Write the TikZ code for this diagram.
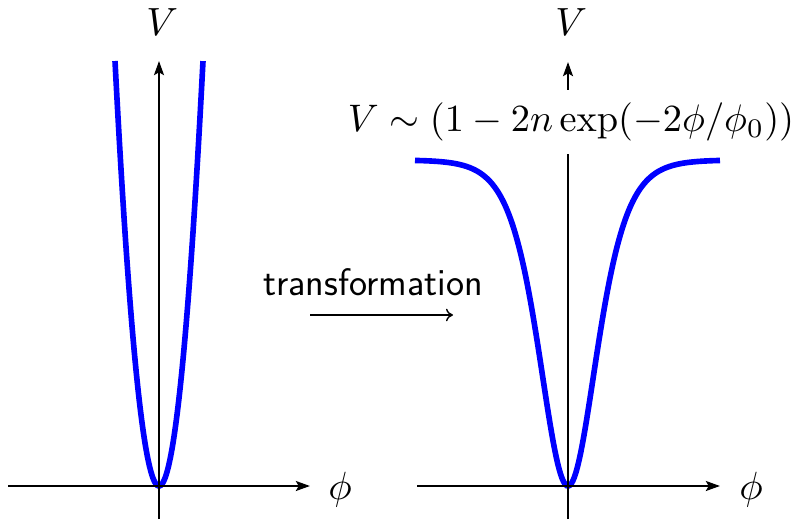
\documentclass[tikz,border=0pt]{standalone}
\usepackage{amsmath,amssymb}
\usetikzlibrary{arrows.meta,positioning,calc}

\begin{document}
\begin{tikzpicture}[
    axis/.style={line width=1.8pt, -{Stealth[length=10pt, width=7pt, inset=2pt]}},
    pot/.style={draw=blue, line width=4pt},
    lab/.style={scale=2.8, transform shape, inner sep=0pt},
    trarr/.style={line width=1pt, -{Computer Modern Rightarrow[length=5pt, width=9pt]}}
]
\useasboundingbox (0,0) rectangle (19.8,12.975);

% origins of the two plots
\coordinate (OL) at (3.975,0.825);
\coordinate (OR) at (14.2,0.825);

% potentials
\begin{scope}[shift={(OL)}]
\draw[pot] plot[domain=-1.1:1.1, samples=80] ({\x},{10.625*(\x/1.1)*(\x/1.1)});
\end{scope}
\begin{scope}[shift={(OR)}]
\draw[pot] plot[domain=-3.825:3.8, samples=200] ({\x},{8.15*tanh(\x/0.9575)*tanh(\x/0.9575)});
\end{scope}

% left axes
\coordinate (xLa) at ($(OL)+(-3.775,0)$);
\coordinate (xLb) at ($(OL)+(3.775,0)$);
\coordinate (yLa) at ($(OL)+(0,-0.825)$);
\coordinate (yLb) at ($(OL)+(0,10.625)$);
\coordinate (pL) at ($(OL)+(4.525,-0.09)$);
\coordinate (vL) at ($(OL)+(0.08,11.61)$);
\draw[axis] (xLa) -- (xLb);
\draw[axis] (yLa) -- (yLb);
\node[lab] (phiL) at (pL) {$\phi$};
\node[lab] (VL) at (vL) {$V$};

% right axes
\coordinate (xRa) at ($(OR)+(-3.775,0)$);
\coordinate (xRb) at ($(OR)+(3.8,0)$);
\coordinate (yRa) at ($(OR)+(0,-0.825)$);
\coordinate (yRb) at ($(OR)+(0,10.6)$);
\coordinate (pR) at ($(OR)+(4.575,-0.09)$);
\coordinate (vR) at ($(OR)+(0.08,11.61)$);
\coordinate (fR) at ($(OR)+(0.075,9.1)$);
\draw[axis] (xRa) -- (xRb);
\draw[axis] (yRa) -- (yRb);
\node[lab] (phiR) at (pR) {$\phi$};
\node[lab] (VR) at (vR) {$V$};

\node[fill=white, scale=2.73, transform shape, inner sep=3.3pt] (form) at (fR)
    {$V\sim(1-2n\exp(-2\phi/\phi_0))$};

% transformation
\node[font=\sffamily\fontsize{27.3}{32}\selectfont, inner sep=0pt] (trans) at (9.325,5.925) {transformation};
\coordinate (ta) at (7.75,5.1);
\coordinate (tb) at (11.325,5.1);
\draw[trarr] (ta) -- (tb);
\end{tikzpicture}
\end{document}
